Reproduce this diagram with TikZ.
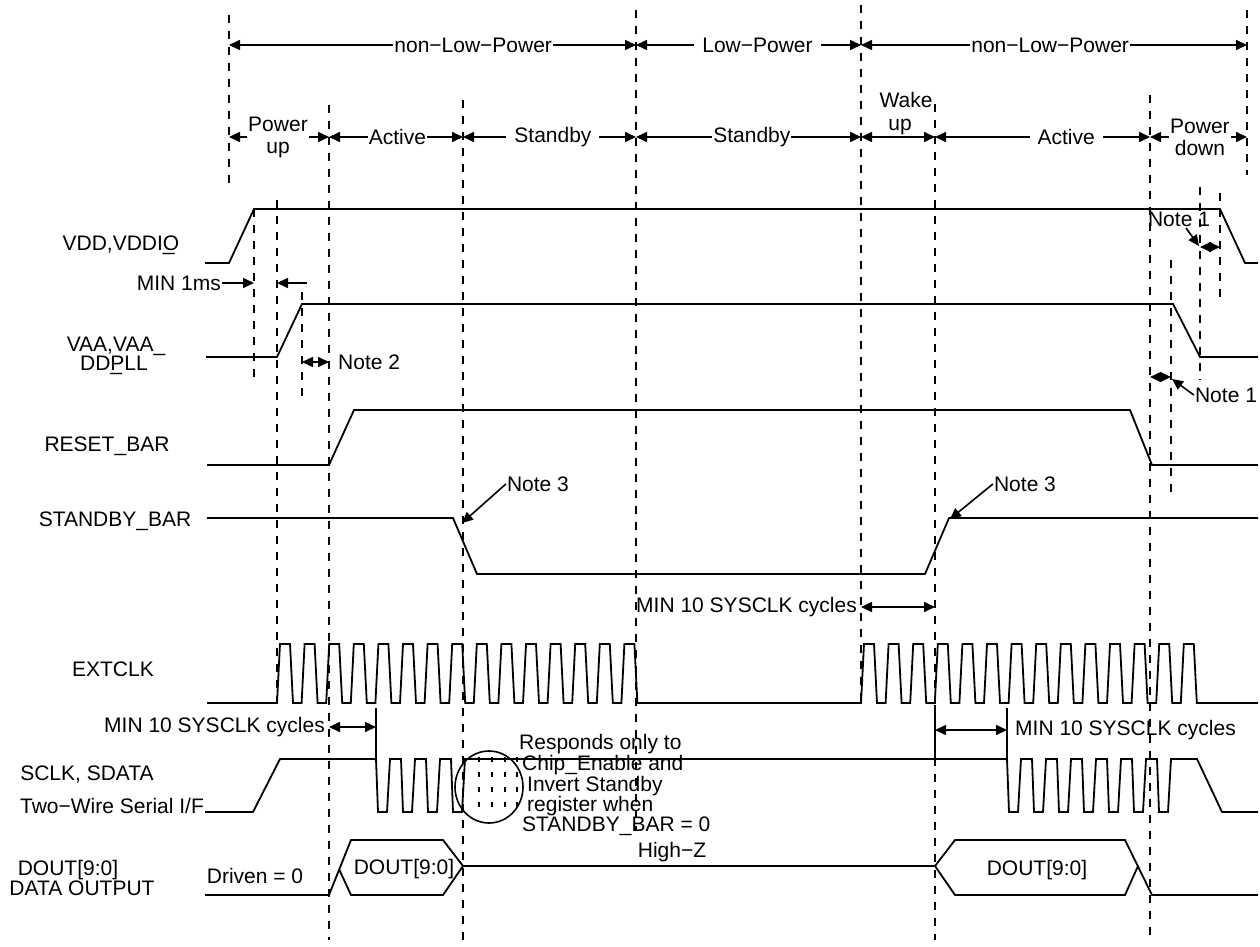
\documentclass[tikz,border=0pt]{standalone}
\usepackage{fontspec}
\setmainfont{Liberation Sans}
\usetikzlibrary{arrows.meta}
\tikzstyle{wave} = [line width=1.8pt, line join=miter]
\tikzstyle{vline} = [line width=1.8pt, dash pattern=on 8pt off 8pt]
\tikzstyle{dimarrow} = [line width=1.6pt, {Triangle[length=11pt,width=10pt]}-{Triangle[length=11pt,width=10pt]}]
\tikzstyle{pointer} = [line width=1.6pt, -{Triangle[length=11pt,width=10pt]}]
\tikzstyle{lbl} = [font={\fontsize{21}{22}\selectfont}, inner sep=1pt]
\tikzstyle{phase} = [lbl, fill=white]

\begin{document}
\begin{tikzpicture}[x=1pt,y=-1pt]
    \useasboundingbox (0,0) rectangle (1260,947);
    % time marks
    \foreach \x/\a/\b in {229/15/187, 254/209/378, 277/200/705, 302/292/398, 329/105/940,
        463/100/940, 636/10/830, 861/5/705, 935/104/705, 935/758/940, 1150/95/940,
        1171/260/495, 1200/187/380, 1220/193/302, 1247/10/175}
        \draw[vline] (\x,\a)--(\x,\b);
    \draw[wave] (376,708)--(376,759);
    \draw[wave] (935,705)--(935,758);
    \draw[wave] (1007,708)--(1007,759);
    % power modes
    \draw[dimarrow] (229,45) -- node[phase,pos=0.6](np1){non−Low−Power} (636,45);
    \draw[dimarrow] (636,45) -- node[phase,pos=0.54,inner xsep=8pt](lp){Low−Power} (861,45);
    \draw[dimarrow] (861,45) -- node[phase,pos=0.49](np2){non−Low−Power} (1247,45);
    % states
    \draw[dimarrow] (229,137) -- node[phase,pos=0.49,align=center](pu){Power\\up} (329,137);
    \draw[dimarrow] (329,137) -- node[phase,pos=0.51](ac1){Active} (463,137);
    \draw[dimarrow] (463,137) -- node[phase,pos=0.52,inner xsep=8pt](sb1){Standby} (636,137);
    \draw[dimarrow] (636,137) -- node[phase,pos=0.515](sb2){Standby} (861,137);
    \draw[dimarrow] (861,137) -- (935,137);
    \node[lbl](wk) at (906,100){Wake};
    \node[lbl](wu) at (900,127){up};
    \draw[dimarrow] (935,137) -- node[phase,pos=0.61,inner xsep=8pt](ac2){Active} (1150,137);
    \draw[dimarrow] (1150,137) -- node[phase,pos=0.515,align=center](pd){Power\\down} (1247,137);
    % signal names
    \node[lbl](vdd) at (121,245){VDD,VDDI\rlap{\_}O};
    \node[lbl](vaa1) at (116,346){VAA,VAA\_};
    \node[lbl](vaa2) at (114,365){DD\rlap{\_}PLL};
    \node[lbl](rst) at (107,446){RESET\_BAR};
    \node[lbl](stb) at (115,521){STANDBY\_BAR};
    \node[lbl](ext) at (113,669){EXTCLK};
    \node[lbl](scl) at (87,775){SCLK, SDATA};
    \node[lbl](twi) at (112,806){Two−Wire Serial I/F};
    \node[lbl](dot) at (68,870){DOUT[9:0]};
    \node[lbl](dat) at (82,888){DATA OUTPUT};
    % waveforms
    \draw[wave] (205,263) -- (229,263) -- (254,209) -- (1220,209) -- (1245,263) -- (1258,263);
    \draw[wave] (206,357) -- (277,357) -- (302,304) -- (1173,304) -- (1200,357) -- (1258,357);
    \draw[wave] (207,465) -- (329,465) -- (354,410) -- (1130,410) -- (1152,465) -- (1258,465);
    \draw[wave] (207,518) -- (453,518) -- (477,574) -- (925,574) -- (949,518) -- (1258,518);
    \draw[wave] (207,703) -- (277,703)
        \foreach \k in {1,...,15}{ -- ++(3,-59) -- ++(10,0) -- ++(3,59) -- ++(8.6,0)}
        -- (861,703)
        \foreach \k in {1,...,14}{ -- ++(3,-59) -- ++(10,0) -- ++(3,59) -- ++(8.6,0)}
        -- (1258,703);
    \draw[wave] (205,812) -- (253,812) -- (280,759) -- (376,759)
        \foreach \k in {1,...,4}{ -- ++(2,53) -- ++(9,0) -- ++(3,-53) -- ++(11,0)}
        -- (1007,759)
        \foreach \k in {1,...,7}{ -- ++(2,53) -- ++(9,0) -- ++(3,-53) -- ++(11,0)}
        -- (1197,759) -- (1222,812) -- (1258,812);
    \draw[wave] (205,895) -- (329,895) -- (351,840) -- (443,840) -- (463,866) -- (443,895) -- (351,895) -- (339,869);
    \draw[wave] (463,866) -- (935,866);
    \draw[wave] (1138,866) -- (1125,895) -- (955,895) -- (935,866) -- (955,840) -- (1125,840) -- (1152,895) -- (1258,895);
    % ignored serial clocks
    \draw[line width=1.6pt] (489,787) ellipse (34pt and 36pt);
    \foreach \x in {479,492,505,517}
        \draw[line width=1.4pt, dash pattern=on 5pt off 10pt] (\x,757) -- (\x,812);
    \node[lbl,align=left,anchor=west,font={\fontsize{21}{19.5}\selectfont}](resp) at (518,785)
        {Responds only to\\\hspace*{3pt}Chip\_Enable and\\\hspace*{8pt}Invert Standby\\\hspace*{8pt}register when\\\hspace*{3pt}STANDBY\_BAR = 0};
    % data output
    \node[lbl](drv) at (255,876){Driven = 0};
    \node[lbl](dh1) at (404,869){DOUT[9:0]};
    \node[lbl](hz) at (672,852){High−Z};
    \node[lbl](dh2) at (1037,870){DOUT[9:0]};
    % timing notes
    \node[lbl,anchor=east](m1) at (222,283){MIN 1ms};
    \coordinate (m1a) at (254,283);
    \coordinate (m1b) at (277,283);
    \draw[pointer] (m1) -- (m1a);
    \draw[pointer] (307,283) -- (m1b);
    \draw[dimarrow] (302,362) -- (329,362);
    \node[lbl,anchor=west](n2) at (337,362){Note 2};
    \node[lbl](n1a) at (1179,219){Note 1};
    \coordinate (n1ap) at (1199,246);
    \draw[pointer] (1186,228) -- (n1ap);
    \draw[dimarrow] (1200,247) -- (1220,247);
    \draw[dimarrow] (1150,377) -- (1171,377);
    \node[lbl](n1b) at (1226,395){Note 1};
    \coordinate (n1bp) at (1172,379);
    \draw[pointer] (n1b.west) -- (n1bp);
    \node[lbl](n3a) at (538,484){Note 3};
    \coordinate (sfall) at (462,523);
    \draw[pointer] (n3a.west) -- (sfall);
    \node[lbl](n3b) at (1025,484){Note 3};
    \coordinate (srise) at (950,519);
    \draw[pointer] (n3b.west) -- (srise);
    \node[lbl,anchor=east](mc1) at (326,727){MIN 10 SYSCLK cycles};
    \draw[dimarrow] (329,727) -- (376,727);
    \node[lbl,anchor=east](mc2) at (858,607){MIN 10 SYSCLK cycles};
    \draw[dimarrow] (861,607) -- (935,607);
    \draw[dimarrow] (935,730) -- (1007,730);
    \node[lbl,anchor=west](mc3) at (1014,730){MIN 10 SYSCLK cycles};
\end{tikzpicture}
\end{document}
